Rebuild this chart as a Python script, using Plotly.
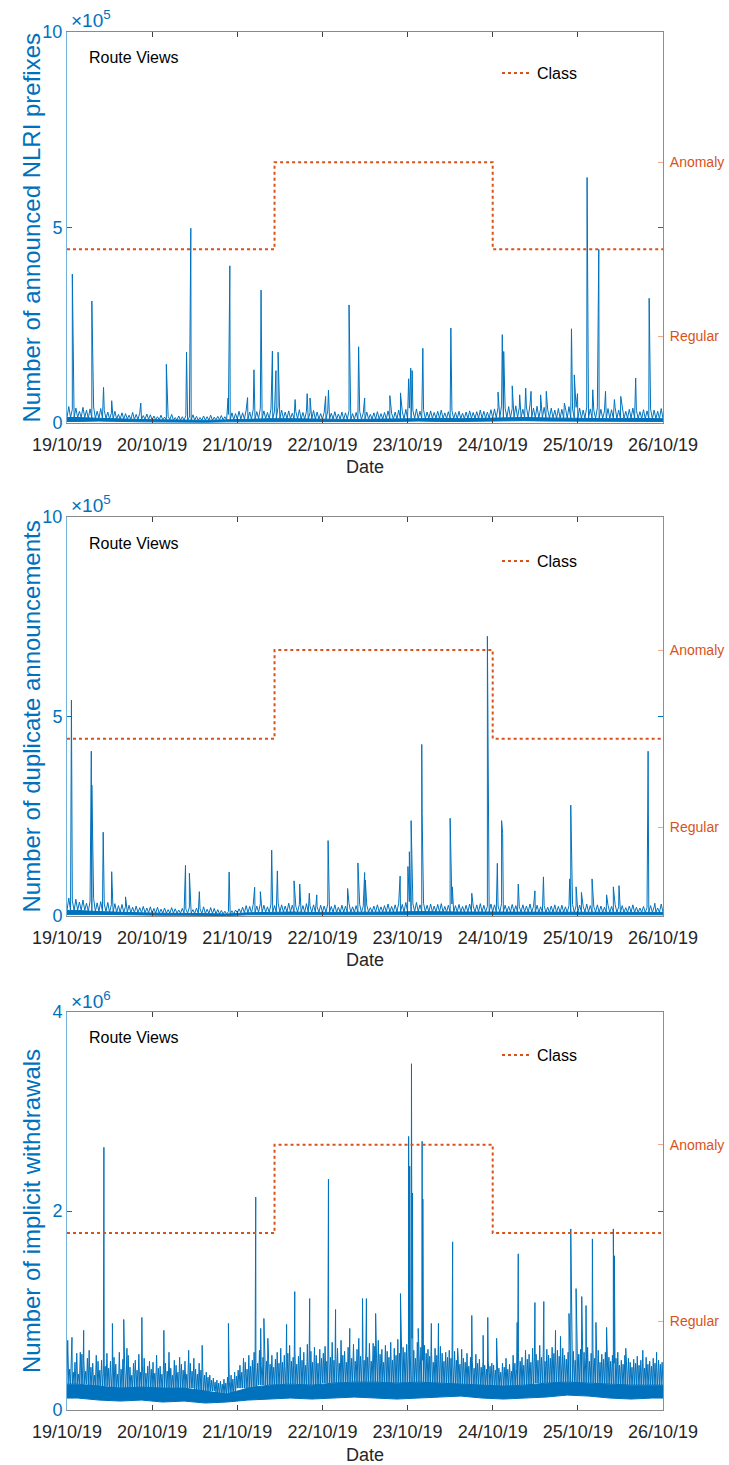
import pandas as pd
import plotly.graph_objects as go

# ---------------- data ----------------
START = pd.Timestamp("2019-10-19")
date_ticks = list(pd.date_range("2019-10-19", "2019-10-26", freq="D"))
date_labels = [d.strftime("%d/%m/%y") for d in date_ticks]

# Class (0 = Regular, 1 = Anomaly), step changes
class_times = ["2019-10-19 00:00", "2019-10-21 10:30", "2019-10-24 00:00", "2019-10-26 00:00"]
class_values = [0, 1, 0, 0]

# ---- Panel 1: announced NLRI prefixes (x1e5) ----
nlri_hourly_peak = [
    0.42,0.35,0.38,0.30,0.40,0.33,0.36,0.41,0.30,0.37,0.32,0.28,0.25,0.30,0.22,0.26,0.24,0.20,0.27,0.22,0.25,0.19,0.23,0.21,
    0.18,0.16,0.20,0.15,0.17,0.22,0.14,0.18,0.16,0.19,0.15,0.21,0.17,0.14,0.18,0.16,0.20,0.15,0.17,0.19,0.16,0.22,0.26,0.24,
    0.30,0.26,0.33,0.28,0.35,0.29,0.38,0.31,0.27,0.36,0.30,0.42,0.33,0.28,0.31,0.25,0.29,0.34,0.27,0.30,0.26,0.32,0.28,0.24,
    0.27,0.31,0.25,0.29,0.23,0.28,0.26,0.32,0.24,0.27,0.30,0.25,0.28,0.22,0.26,0.29,0.24,0.27,0.31,0.25,0.28,0.33,0.30,0.35,
    0.38,0.32,0.36,0.30,0.34,0.28,0.31,0.27,0.30,0.33,0.26,0.29,0.32,0.27,0.30,0.25,0.28,0.31,0.27,0.29,0.33,0.30,0.28,0.34,
    0.36,0.40,0.45,0.38,0.42,0.37,0.44,0.39,0.35,0.41,0.46,0.38,0.43,0.36,0.40,0.34,0.38,0.33,0.37,0.35,0.39,0.42,0.36,0.40,
    0.38,0.33,0.41,0.36,0.32,0.39,0.35,0.31,0.37,0.34,0.40,0.33,0.36,0.30,0.35,0.38,0.32,0.29,0.34,0.31,0.36,0.33,0.30,0.37]
nlri_6h_core = [0.14,0.12,0.10,0.09,0.08,0.07,0.07,0.08,0.10,0.11,0.11,0.10,0.10,0.09,
                0.10,0.10,0.11,0.12,0.11,0.12,0.13,0.14,0.13,0.12,0.12,0.11,0.12,0.11]
nlri_6h_low = [0.04,0.05,0.04,0.03,0.02,0.02,0.02,0.03,0.04,0.04,0.03,0.04,0.04,0.03,
               0.04,0.04,0.05,0.04,0.04,0.05,0.05,0.06,0.05,0.05,0.05,0.04,0.05,0.04]
nlri_spike_hours = [1.5,7.0,10.3,12.6,20.8,28.0,33.7,34.9,45.4,45.9,50.9,52.7,54.7,57.9,58.9,59.5,64.3,67.7,68.5,72.9,
                    73.7,79.5,82.2,83.9,91.0,94.0,96.3,96.9,97.3,100.3,108.2,121.5,122.7,123.1,125.5,127.6,129.3,130.8,
                    133.5,135.1,140.2,142.2,143.0,143.9,146.6,148.2,149.9,151.8,154.3,156.1,160.3,164.1]
nlri_spike_values = [3.81,3.12,0.91,0.57,0.51,1.50,1.81,4.98,0.64,4.02,0.65,1.36,3.40,1.84,1.34,1.81,0.60,0.75,0.64,0.68,
                     0.84,3.02,1.95,0.64,0.70,0.77,1.13,1.40,1.34,1.91,2.43,0.79,2.26,1.83,0.95,0.72,0.89,0.81,
                     0.72,0.81,0.51,2.41,1.23,0.75,6.28,0.85,4.44,0.81,0.60,0.68,1.15,3.19]

# ---- Panel 2: duplicate announcements (x1e5) ----
dup_hourly_peak = [
    0.45,0.38,0.42,0.35,0.40,0.32,0.37,0.44,0.33,0.36,0.30,0.34,0.28,0.31,0.26,0.29,0.24,0.27,0.22,0.25,0.21,0.24,0.20,0.23,
    0.19,0.22,0.17,0.20,0.16,0.21,0.18,0.15,0.19,0.17,0.22,0.16,0.20,0.18,0.23,0.17,0.21,0.19,0.16,0.14,0.12,0.11,0.13,0.15,
    0.18,0.22,0.26,0.24,0.29,0.25,0.31,0.27,0.23,0.30,0.26,0.33,0.28,0.25,0.32,0.27,0.24,0.29,0.26,0.31,0.25,0.28,0.23,0.27,
    0.25,0.30,0.24,0.28,0.22,0.27,0.25,0.31,0.23,0.26,0.29,0.24,0.27,0.21,0.25,0.28,0.23,0.26,0.30,0.24,0.28,0.32,0.29,0.34,
    0.36,0.31,0.34,0.28,0.32,0.27,0.30,0.25,0.29,0.31,0.24,0.27,0.30,0.26,0.29,0.24,0.27,0.30,0.25,0.28,0.31,0.27,0.24,0.30,
    0.28,0.25,0.31,0.27,0.24,0.29,0.26,0.23,0.28,0.25,0.30,0.24,0.27,0.23,0.26,0.22,0.25,0.28,0.24,0.27,0.23,0.26,0.29,0.25,
    0.27,0.24,0.30,0.26,0.23,0.28,0.25,0.22,0.27,0.24,0.29,0.23,0.26,0.21,0.25,0.28,0.22,0.20,0.24,0.21,0.26,0.23,0.20,0.30]
dup_6h_core = [0.14,0.11,0.09,0.08,0.07,0.07,0.06,0.05,0.08,0.09,0.10,0.09,0.09,0.09,
               0.10,0.10,0.11,0.10,0.10,0.10,0.10,0.10,0.09,0.09,0.10,0.09,0.09,0.09]
dup_6h_low = [0.04,0.04,0.03,0.03,0.02,0.02,0.02,0.01,0.03,0.03,0.03,0.03,0.03,0.03,
              0.03,0.04,0.03,0.03,0.03,0.03,0.03,0.03,0.03,0.03,0.03,0.03,0.03,0.03]
dup_spike_hours = [1.1,1.25,6.85,7.0,10.2,12.6,16.5,33.4,34.5,37.3,45.7,52.9,54.5,57.7,59.3,64.0,65.6,68.3,70.4,73.6,
                   79.1,82.0,83.9,84.1,93.9,96.1,96.5,97.0,100.0,100.1,108.0,108.6,114.1,118.5,121.3,122.5,122.8,127.2,
                   131.9,134.3,141.7,142.0,143.5,145.0,148.0,152.1,154.0,155.6,163.8,165.7]
dup_spike_values = [3.24,5.41,4.13,3.28,2.10,1.11,0.48,1.27,1.07,0.61,1.10,0.72,0.61,1.65,1.13,0.88,0.80,0.57,0.53,1.89,
                    0.69,1.33,1.09,0.90,1.00,1.24,1.61,2.39,4.30,2.57,2.45,0.73,0.57,7.01,1.32,2.39,2.07,0.80,
                    0.63,0.98,0.93,2.78,0.73,0.59,0.93,0.53,0.73,0.76,4.13,0.32]

# ---- Panel 3: implicit withdrawals (x1e6), half-hourly peaks ----
impl_halfhour_peak = [
    0.62,0.41,0.55,0.38,0.48,0.57,0.36,0.58,0.44,0.50,0.39,0.52,0.60,0.43,0.47,0.35,0.55,0.49,0.40,0.50,0.37,0.44,0.57,0.42,
    0.49,0.38,0.53,0.46,0.36,0.58,0.41,0.51,0.45,0.39,0.55,0.43,0.35,0.47,0.50,0.40,0.56,0.38,0.45,0.52,0.37,0.44,0.49,0.41,
    0.48,0.37,0.55,0.42,0.44,0.36,0.51,0.47,0.39,0.58,0.42,0.35,0.50,0.45,0.38,0.53,0.46,0.40,0.49,0.36,0.43,0.47,0.39,0.52,
    0.41,0.36,0.47,0.40,0.43,0.35,0.38,0.33,0.35,0.30,0.32,0.28,0.30,0.27,0.29,0.26,0.31,0.27,0.33,0.29,0.35,0.31,0.38,0.34,
    0.40,0.45,0.38,0.52,0.48,0.41,0.55,0.44,0.50,0.58,0.43,0.47,0.60,0.45,0.53,0.41,0.49,0.62,0.46,0.55,0.43,0.51,0.58,0.47,
    0.62,0.48,0.55,0.44,0.57,0.65,0.49,0.53,0.60,0.46,0.54,0.63,0.50,0.58,0.45,0.66,0.52,0.59,0.48,0.63,0.55,0.47,0.61,0.52,
    0.57,0.64,0.49,0.60,0.53,0.68,0.50,0.58,0.62,0.47,0.70,0.55,0.59,0.48,0.63,0.56,0.52,0.66,0.49,0.61,0.72,0.54,0.57,0.50,
    0.60,0.53,0.67,0.49,0.58,0.64,0.52,0.70,0.56,0.61,0.48,0.65,0.59,0.53,0.68,0.50,0.62,0.55,0.71,0.57,0.52,0.63,0.58,0.66,
    0.66,0.55,0.72,0.60,0.52,0.68,0.58,0.63,0.50,0.65,0.57,0.61,0.54,0.59,0.48,0.62,0.55,0.51,0.64,0.57,0.49,0.58,0.53,0.60,
    0.52,0.47,0.59,0.50,0.55,0.46,0.61,0.52,0.48,0.57,0.44,0.53,0.50,0.42,0.56,0.47,0.51,0.43,0.49,0.45,0.41,0.50,0.44,0.47,
    0.45,0.40,0.50,0.42,0.38,0.47,0.43,0.52,0.41,0.46,0.39,0.55,0.47,0.42,0.58,0.49,0.53,0.45,0.60,0.51,0.56,0.48,0.62,0.53,
    0.56,0.50,0.65,0.53,0.58,0.49,0.61,0.55,0.52,0.63,0.57,0.50,0.60,0.54,0.48,0.62,0.55,0.51,0.58,0.64,0.53,0.59,0.50,0.62,
    0.56,0.61,0.50,0.58,0.53,0.63,0.49,0.57,0.62,0.52,0.55,0.60,0.48,0.56,0.51,0.58,0.46,0.53,0.49,0.55,0.47,0.52,0.58,0.45,
    0.50,0.46,0.55,0.44,0.52,0.48,0.43,0.51,0.47,0.54,0.45,0.50,0.48,0.42,0.53,0.46,0.49,0.44,0.52,0.47,0.43,0.50,0.46,0.48]
impl_6h_core = [0.26,0.24,0.22,0.23,0.22,0.22,0.19,0.16,0.22,0.25,0.26,0.25,0.27,0.28,
                0.28,0.27,0.28,0.27,0.26,0.25,0.24,0.25,0.27,0.28,0.27,0.26,0.25,0.25]
impl_6h_low = [0.12,0.10,0.09,0.10,0.08,0.09,0.07,0.08,0.10,0.11,0.12,0.11,0.12,0.13,
               0.12,0.11,0.12,0.13,0.14,0.12,0.11,0.12,0.13,0.15,0.14,0.12,0.11,0.12]
impl_spike_hours = [0.2,1.4,4.2,4.7,6.1,10.4,12.8,16.0,16.9,21.1,27.3,34.3,38.1,45.5,53.2,54.6,55.5,56.6,61.9,64.2,
                    68.4,73.7,75.7,79.7,83.3,84.4,86.3,87.0,94.0,96.3,96.6,97.1,97.4,99.0,100.1,100.3,102.7,104.7,
                    108.7,110.1,114.1,117.3,118.6,121.1,126.9,127.2,131.9,134.4,137.7,139.1,141.5,142.0,143.5,145.1,
                    146.3,148.1,149.1,152.1,154.0,154.3,157.5,162.3,166.2]
impl_spike_values = [0.70,0.73,0.56,0.80,0.54,2.64,0.87,0.91,0.62,0.93,0.80,0.60,0.65,0.87,2.14,0.82,0.92,0.72,0.86,1.19,
                     1.12,2.32,1.01,0.82,1.12,1.12,0.67,0.97,1.17,2.75,2.45,3.48,2.18,0.82,2.70,2.12,0.87,0.87,
                     1.69,0.62,0.95,0.75,0.93,0.72,0.88,1.57,1.08,1.09,0.80,0.74,0.97,1.82,1.22,1.14,
                     1.05,1.72,0.88,0.83,1.82,1.55,0.62,0.60,0.58]

# ---------------- helpers ----------------
BLUE = "#0072BD"
ORANGE = "#D95319"
FONT = "Arial, Liberation Sans, sans-serif"
W, H = 729, 1465
TOTAL_HOURS = 168


def hours_to_time(hs):
    return [START + pd.Timedelta(hours=h) for h in hs]


def build_series(peaks, core, spike_h, spike_v, scale):
    step = TOTAL_HOURS / len(peaks)
    pts = []
    for k, v in enumerate(peaks):
        t = k * step
        pts.append((t, core[int(t // 6)]))
        pts.append((t + step / 2, v))
    pts.append((TOTAL_HOURS, core[-1]))
    pts += list(zip(spike_h, spike_v))
    pts.sort(key=lambda p: p[0])
    return hours_to_time([h for h, _ in pts]), [v * scale for _, v in pts]


def build_band(core, low, scale):
    hs = [0] + [6 * i + 3 for i in range(len(core))] + [6 * len(core)]
    top = [core[0]] + list(core) + [core[-1]]
    bot = [low[0]] + list(low) + [low[-1]]
    xs = hours_to_time(hs + hs[::-1])
    ys = [v * scale for v in top + bot[::-1]]
    return xs, ys


panels = [
    dict(peaks=nlri_hourly_peak, core=nlri_6h_core, lows=nlri_6h_low, sh=nlri_spike_hours, sv=nlri_spike_values,
         scale=1e5, ymax=10, yticks=[0, 5, 10], exp="5", title="Number of announced NLRI prefixes",
         top=32, bottom=423, date_y=467, exp_y=19, rv_y=57, cls_y=73),
    dict(peaks=dup_hourly_peak, core=dup_6h_core, lows=dup_6h_low, sh=dup_spike_hours, sv=dup_spike_values,
         scale=1e5, ymax=10, yticks=[0, 5, 10], exp="5", title="Number of duplicate announcements",
         top=517, bottom=916, date_y=960, exp_y=504, rv_y=543, cls_y=561),
    dict(peaks=impl_halfhour_peak, core=impl_6h_core, lows=impl_6h_low, sh=impl_spike_hours, sv=impl_spike_values,
         scale=1e6, ymax=4, yticks=[0, 2, 4], exp="6", title="Number of implicit withdrawals",
         top=1012, bottom=1410, date_y=1455, exp_y=1000, rv_y=1037, cls_y=1055),
]

fig = go.Figure()
annotations = []
layout = dict(template="none", width=W, height=H, margin=dict(l=0, r=0, t=0, b=0, pad=0),
              paper_bgcolor="white", plot_bgcolor="white", font=dict(family=FONT),
              showlegend=True, hovermode=False)

x0, x1 = 67 / W, 663 / W
for i, p in enumerate(panels):
    n = i + 1
    xname = "x" if n == 1 else f"x{n}"
    yl = 2 * n - 1
    yr = 2 * n
    ylname = "y" if yl == 1 else f"y{yl}"
    yrname = f"y{yr}"

    bx, by = build_band(p["core"], p["lows"], p["scale"])
    fig.add_trace(go.Scatter(x=bx, y=by, mode="lines", fill="toself", fillcolor=BLUE,
                             line=dict(color=BLUE, width=1), xaxis=xname, yaxis=ylname, showlegend=False))
    xs, ys = build_series(p["peaks"], p["core"], p["sh"], p["sv"], p["scale"])
    fig.add_trace(go.Scatter(x=xs, y=ys, mode="lines", line=dict(color=BLUE, width=1),
                             xaxis=xname, yaxis=ylname, showlegend=False))
    legname = "legend" if n == 1 else f"legend{n}"
    fig.add_trace(go.Scatter(x=pd.to_datetime(class_times), y=class_values, mode="lines", name="Class",
                             line=dict(color=ORANGE, width=2, dash="dot", shape="hv"),
                             xaxis=xname, yaxis=yrname, legend=legname, showlegend=True))

    dom = [1 - p["bottom"] / H, 1 - p["top"] / H]
    xkey = "xaxis" if n == 1 else f"xaxis{n}"
    ylkey = "yaxis" if yl == 1 else f"yaxis{yl}"
    yrkey = f"yaxis{yr}"
    layout[xkey] = dict(domain=[x0, x1], anchor=ylname, type="date", automargin=False,
                        range=[START, START + pd.Timedelta(days=7)],
                        tickvals=date_ticks, ticktext=date_labels, ticks="inside", ticklen=5,
                        tickcolor="#404040", showline=True, linecolor="#8a8a8a", linewidth=1,
                        mirror="ticks", showgrid=False, zeroline=False,
                        tickfont=dict(size=18, color="#262626", family=FONT), ticklabelstandoff=5)
    layout[ylkey] = dict(domain=dom, anchor=xname, range=[0, p["ymax"] * p["scale"]], automargin=False,
                         tickvals=[t * p["scale"] for t in p["yticks"]],
                         ticktext=[str(t) for t in p["yticks"]], ticks="inside", ticklen=5,
                         tickcolor=BLUE, showline=True, linecolor="rgba(0,114,189,0.55)", linewidth=1,
                         mirror="ticks", showgrid=False, zeroline=False,
                         tickfont=dict(size=18, color=BLUE, family=FONT))
    layout[yrkey] = dict(overlaying=ylname, anchor=xname, side="right", range=[-2, 2.5], automargin=False,
                         tickvals=[-1, 1], ticktext=["Regular", "Anomaly"], ticks="inside", ticklen=5,
                         tickcolor="rgba(217,83,25,0.5)", showline=True,
                         linecolor="rgba(217,83,25,0.45)", linewidth=1, showgrid=False, zeroline=False,
                         tickfont=dict(size=14, color=ORANGE, family=FONT), ticklabelstandoff=3)
    layout[legname] = dict(x=497 / W, y=1 - p["cls_y"] / H, xanchor="left", yanchor="middle",
                           bgcolor="rgba(0,0,0,0)", borderwidth=0,
                           font=dict(size=16, color="black", family=FONT), itemwidth=30)

    annotations += [
        dict(text=p["title"], x=31 / W, y=1 - (p["top"] + p["bottom"]) / 2 / H, xref="paper", yref="paper",
             textangle=-90, showarrow=False, font=dict(size=24, color=BLUE, family=FONT),
             xanchor="center", yanchor="middle"),
        dict(text="Date", x=(67 + 663) / 2 / W, y=1 - p["date_y"] / H, xref="paper", yref="paper",
             showarrow=False, font=dict(size=18, color="#262626", family=FONT),
             xanchor="center", yanchor="middle"),
        dict(text="\u00d710<sup>" + p["exp"] + "</sup>", x=69 / W, y=1 - p["exp_y"] / H,
             xref="paper", yref="paper", showarrow=False, font=dict(size=19, color=BLUE, family=FONT),
             xanchor="left", yanchor="middle"),
        dict(text="Route Views", x=87 / W, y=1 - p["rv_y"] / H, xref="paper", yref="paper",
             showarrow=False, font=dict(size=16, color="black", family=FONT),
             xanchor="left", yanchor="middle"),
    ]

layout["annotations"] = annotations
fig.update_layout(**layout)
fig.write_html("out.html")
